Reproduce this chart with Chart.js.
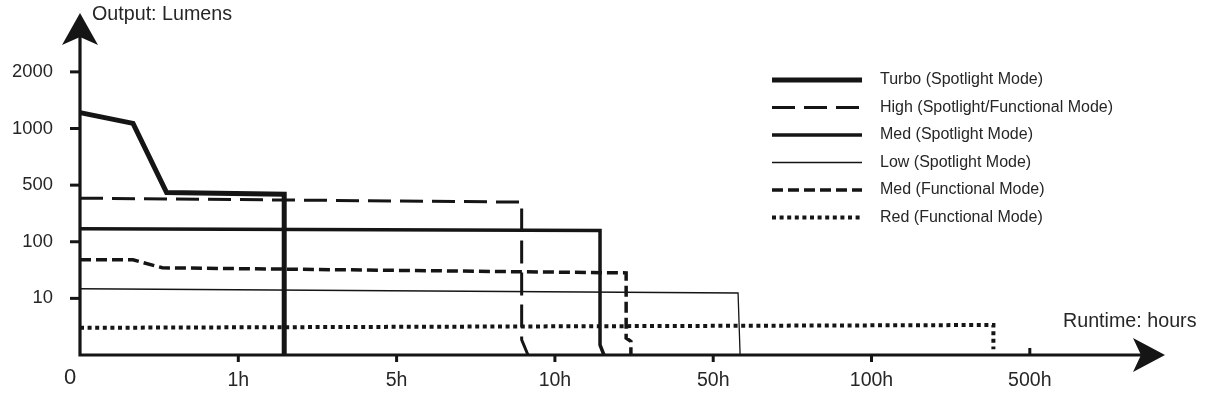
<!DOCTYPE html>
<html>
<head>
<meta charset="utf-8">
<script src="https://cdn.jsdelivr.net/npm/chart.js@4/dist/chart.umd.min.js"></script>
<style>
  html, body { margin: 0; padding: 0; background: #fff; }
  #wrap { width: 1205px; height: 396px; }
</style>
</head>
<body>
<div id="wrap"><canvas id="runtimeChart"></canvas></div>
<script>
// axis labels are evenly spaced, so values are given as positions along each axis
const runtimeLabels = ['0', '1h', '5h', '10h', '50h', '100h', '500h'];
const lumenLabels = ['', '10', '100', '500', '1000', '2000'];

// [runtime position, output position]
const turbo = [[0, 4.28], [0.335, 4.09], [0.547, 2.87], [1.29, 2.84], [1.29, 0]];
const high = [[0, 2.77], [2.79, 2.70], [2.79, 0.27], [2.83, 0]];
const medSpot = [[0, 2.23], [3.285, 2.20], [3.285, 0.18], [3.31, 0]];
const lowSpot = [[0, 1.17], [4.157, 1.095], [4.17, 0]];
const medFunc = [[0, 1.68], [0.335, 1.68], [0.52, 1.54], [3.45, 1.45], [3.45, 0.30], [3.48, 0.24], [3.48, 0]];
const redFunc = [[0, 0.48], [5.77, 0.53], [5.77, 0.1]];

const seriesNames = [
  'Turbo (Spotlight Mode)',
  'High (Spotlight/Functional Mode)',
  'Med (Spotlight Mode)',
  'Low (Spotlight Mode)',
  'Med (Functional Mode)',
  'Red (Functional Mode)'
];

const INK = '#151515';
const TEXT = '#262626';
const pts = arr => arr.map(p => ({x: p[0], y: p[1]}));
const ds = (label, data, width, dash) => ({
  label, data: pts(data), borderColor: INK, borderWidth: width, borderDash: dash,
  pointRadius: 0, fill: false, tension: 0, clip: false, borderCapStyle: 'butt', borderJoinStyle: 'miter'
});

const datasets = [
  ds(seriesNames[0], turbo, 5, []),
  ds(seriesNames[1], high, 3, [23, 9]),
  ds(seriesNames[2], medSpot, 3.5, []),
  ds(seriesNames[3], lowSpot, 1.3, []),
  ds(seriesNames[4], medFunc, 3.5, [11, 5]),
  ds(seriesNames[5], redFunc, 4, [4, 3.6])
];

const FONT = '"Liberation Sans", Arial, sans-serif';

const axesPlugin = {
  id: 'axesPlugin',
  afterDraw(chart) {
    const {ctx, scales: {x, y}} = chart;
    const x0 = x.getPixelForValue(0), y0 = y.getPixelForValue(0);
    const xEnd = x.right, yEnd = y.top;
    ctx.save();
    ctx.strokeStyle = INK; ctx.fillStyle = INK; ctx.lineWidth = 3.2; ctx.setLineDash([]);
    // axis lines
    ctx.beginPath();
    ctx.moveTo(x0, yEnd + 20); ctx.lineTo(x0, y0);
    ctx.lineTo(xEnd - 20, y0);
    ctx.stroke();
    // arrow heads
    ctx.beginPath();
    ctx.moveTo(x0, yEnd); ctx.lineTo(x0 - 18, yEnd + 32); ctx.lineTo(x0, yEnd + 24); ctx.lineTo(x0 + 18, yEnd + 32);
    ctx.closePath(); ctx.fill();
    ctx.beginPath();
    ctx.moveTo(xEnd, y0); ctx.lineTo(xEnd - 32, y0 - 17); ctx.lineTo(xEnd - 24, y0); ctx.lineTo(xEnd - 32, y0 + 17);
    ctx.closePath(); ctx.fill();

    // y ticks
    ctx.lineWidth = 3;
    ctx.textAlign = 'right'; ctx.textBaseline = 'middle';
    ctx.font = '18.4px ' + FONT;
    lumenLabels.forEach((lab, i) => {
      if (!lab) return;
      const py = y.getPixelForValue(i);
      ctx.beginPath(); ctx.moveTo(x0 - 10, py); ctx.lineTo(x0, py); ctx.stroke();
      ctx.fillStyle = TEXT;
      ctx.fillText(lab, x0 - 27, py);
    });
    // x ticks
    ctx.textAlign = 'center';
    runtimeLabels.forEach((lab, i) => {
      const px = x.getPixelForValue(i);
      ctx.fillStyle = TEXT;
      if (i === 0) {
        ctx.font = '22px ' + FONT;
        ctx.fillText(lab, px - 10, y0 + 23);
        return;
      }
      ctx.font = '19.5px ' + FONT;
      ctx.beginPath();
      if (i === runtimeLabels.length - 1) { ctx.moveTo(px, y0 - 7); ctx.lineTo(px, y0); }
      else { ctx.moveTo(px, y0); ctx.lineTo(px, y0 + 7); }
      ctx.stroke();
      ctx.fillText(lab, px, y0 + 26);
    });

    // axis titles
    ctx.textAlign = 'left';
    ctx.font = '19.7px ' + FONT;
    ctx.fillText('Output: Lumens', x0 + 12, 15);
    ctx.fillText('Runtime: hours', 1063, 322);

    // legend
    ctx.font = '16px ' + FONT;
    ctx.textBaseline = 'middle';
    chart.data.datasets.forEach((d, i) => {
      const ly = 80 + i * 27.5;
      ctx.strokeStyle = INK; ctx.lineWidth = d.borderWidth;
      ctx.setLineDash(d.borderDash || []);
      ctx.beginPath(); ctx.moveTo(772, ly); ctx.lineTo(862, ly); ctx.stroke();
      ctx.setLineDash([]);
      ctx.fillStyle = TEXT;
      ctx.fillText(d.label, 880, ly);
    });
    ctx.restore();
  }
};

new Chart(document.getElementById('runtimeChart'), {
  type: 'line',
  data: { datasets },
  options: {
    responsive: true,
    maintainAspectRatio: false,
    animation: false,
    layout: { padding: { left: 80, top: 13, right: 40, bottom: 41 } },
    plugins: { legend: { display: false }, tooltip: { enabled: false } },
    scales: {
      x: { type: 'linear', min: 0, max: 6.854, display: false },
      y: { type: 'linear', min: 0, max: 6.04, display: false }
    }
  },
  plugins: [axesPlugin]
});
</script>
</body>
</html>
